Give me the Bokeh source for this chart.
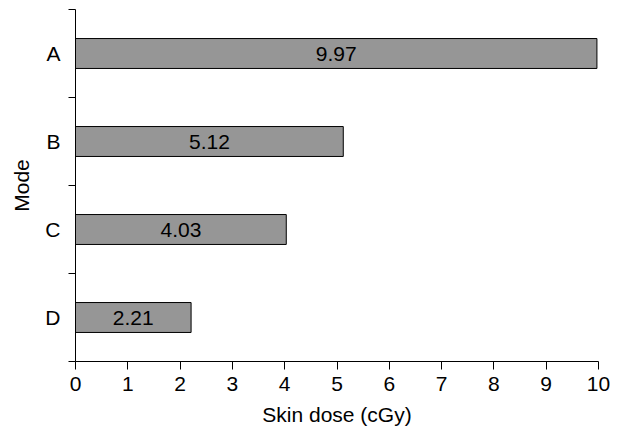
from bokeh.plotting import figure
from bokeh.models import ColumnDataSource, FixedTicker, Range1d
from bokeh.core.properties import value
from bokeh.embed import file_html
from bokeh.resources import INLINE

modes = ["A", "B", "C", "D"]
dose = [9.97, 5.12, 4.03, 2.21]
dose_labels = ["9.97", "5.12", "4.03", "2.21"]
x_ticks = [0, 1, 2, 3, 4, 5, 6, 7, 8, 9, 10]

n = len(modes)
ypos = [n - i - 0.5 for i in range(n)]
src = ColumnDataSource(dict(y=ypos, right=dose, mid=[d / 2 for d in dose], lab=dose_labels))

FONT = "Liberation Sans"
FS = "21px"
p = figure(width=615, height=432, output_backend="svg", toolbar_location=None,
           x_range=Range1d(0, 10), y_range=Range1d(0, n),
           min_border_left=75, min_border_right=17, min_border_top=9, min_border_bottom=71)
p.outline_line_color = None
p.grid.visible = False
p.background_fill_color = "white"
p.border_fill_color = "white"

p.hbar(y="y", left=0, right="right", height=0.34, source=src,
       fill_color="#969696", line_color="black", line_width=1)
p.text(x="mid", y="y", text="lab", source=src, text_align="center", text_baseline="middle",
       text_font=value(FONT), text_font_size=FS, text_color="black")

xa = p.xaxis[0]
xa.ticker = FixedTicker(ticks=x_ticks, minor_ticks=[])
xa.axis_label = "Skin dose (cGy)"
xa.major_tick_in = 0
xa.major_tick_out = 8
xa.minor_tick_out = 0
xa.minor_tick_in = 0
xa.major_label_standoff = 7
xa.axis_label_standoff = 9

ya = p.yaxis[0]
ya.ticker = FixedTicker(ticks=ypos, minor_ticks=[float(i) for i in range(n + 1)])
ya.major_label_overrides = {ypos[i]: modes[i] for i in range(n)}
ya.axis_label = "Mode"
ya.major_tick_in = 0
ya.major_tick_out = 0
ya.minor_tick_in = 0
ya.minor_tick_out = 7
ya.major_label_standoff = 8
ya.axis_label_standoff = 9

for ax in (xa, ya):
    ax.axis_line_color = "black"
    ax.axis_line_width = 1
    ax.major_tick_line_color = "black"
    ax.minor_tick_line_color = "black"
    ax.major_label_text_font = FONT
    ax.major_label_text_font_size = FS
    ax.major_label_text_color = "black"
    ax.axis_label_text_font = FONT
    ax.axis_label_text_font_size = FS
    ax.axis_label_text_font_style = "normal"
    ax.axis_label_text_color = "black"

open("out.html", "w").write(file_html(p, INLINE))
